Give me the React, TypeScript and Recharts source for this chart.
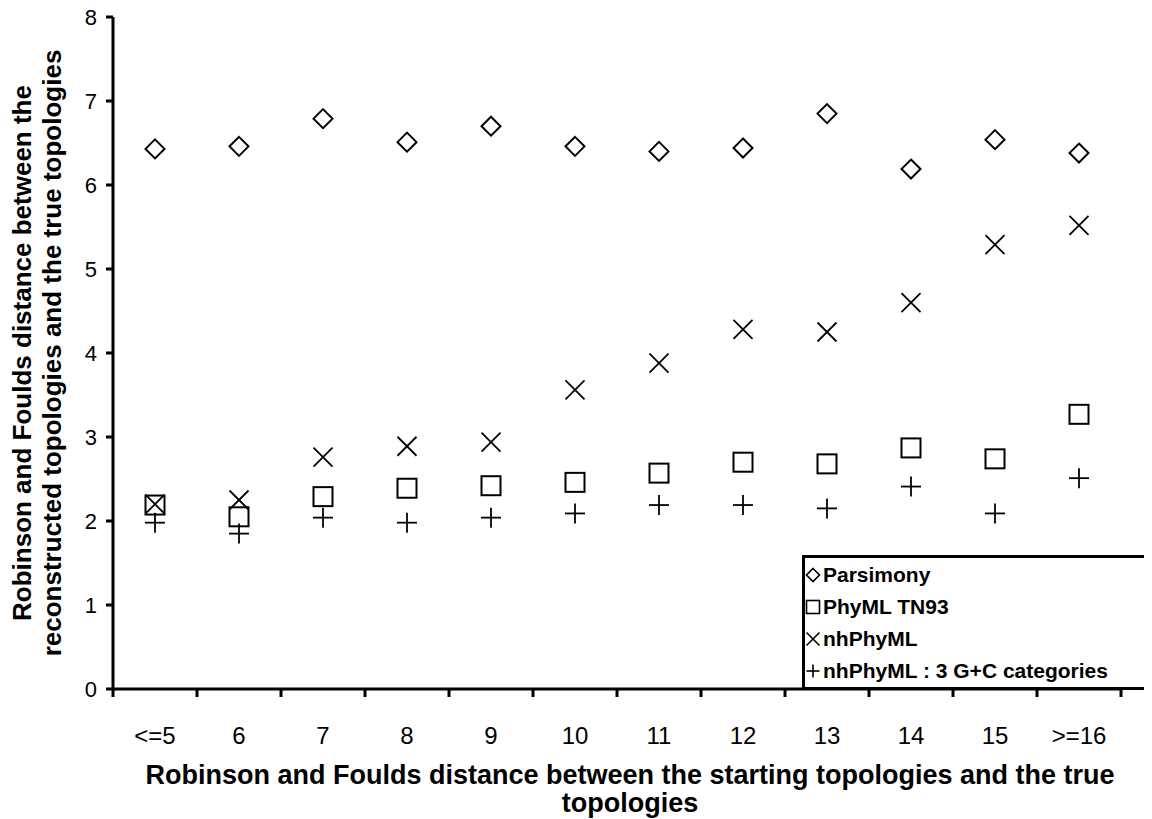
import React from "react";
import { ScatterChart, Scatter, XAxis, YAxis, Legend, Label } from "recharts";

const categories = ["<=5", "6", "7", "8", "9", "10", "11", "12", "13", "14", "15", ">=16"];
const parsimony = [6.43, 6.46, 6.79, 6.51, 6.7, 6.46, 6.4, 6.44, 6.85, 6.19, 6.54, 6.38];
const phymlTN93 = [2.19, 2.05, 2.29, 2.39, 2.42, 2.46, 2.57, 2.7, 2.68, 2.87, 2.74, 3.27];
const nhPhyml = [2.2, 2.25, 2.76, 2.89, 2.94, 3.56, 3.88, 4.28, 4.25, 4.6, 5.29, 5.52];
const nhPhymlGC = [1.98, 1.85, 2.04, 1.98, 2.04, 2.09, 2.19, 2.19, 2.15, 2.41, 2.09, 2.51];
const yTicks = [0, 1, 2, 3, 4, 5, 6, 7, 8];

const FONT = "'Liberation Sans', Arial, Helvetica, sans-serif";

// boundary ticks (0..12) carry the tick marks, half-way ticks carry the labels
const xTicks = [
  ...categories.map((_, i) => i),
  categories.length,
  ...categories.map((_, i) => i + 0.5),
].sort((a, b) => a - b);

const toPoints = (values: number[]) => values.map((v, i) => ({ x: i + 0.5, y: v }));

type Sym = "diamond" | "square" | "x" | "plus";

function symbolPath(kind: Sym, cx: number, cy: number, r: number, sw: number) {
  if (kind === "diamond") {
    return (
      <polygon
        points={`${cx},${cy - r} ${cx + r},${cy} ${cx},${cy + r} ${cx - r},${cy}`}
        fill="#fff"
        stroke="#000"
        strokeWidth={sw}
      />
    );
  }
  if (kind === "square") {
    return <rect x={cx - r} y={cy - r} width={r * 2} height={r * 2} fill="none" stroke="#000" strokeWidth={sw} />;
  }
  if (kind === "x") {
    return (
      <g stroke="#000" strokeWidth={sw}>
        <line x1={cx - r} y1={cy - r} x2={cx + r} y2={cy + r} />
        <line x1={cx - r} y1={cy + r} x2={cx + r} y2={cy - r} />
      </g>
    );
  }
  return (
    <g stroke="#000" strokeWidth={sw}>
      <line x1={cx - r} y1={cy} x2={cx + r} y2={cy} />
      <line x1={cx} y1={cy - r} x2={cx} y2={cy + r} />
    </g>
  );
}

const makeShape = (kind: Sym, r: number, sw: number) => (props: any) =>
  <g>{symbolPath(kind, props.cx, props.cy, r, sw)}</g>;

const symbolByName: Record<string, Sym> = {
  Parsimony: "diamond",
  "PhyML TN93": "square",
  nhPhyML: "x",
  "nhPhyML : 3 G+C categories": "plus",
};

function XTick(props: any) {
  const { x, y, payload } = props;
  const v = payload.value as number;
  if (Number.isInteger(v)) {
    return <line x1={x} x2={x} y1={y} y2={y + 8} stroke="#000" strokeWidth={3} />;
  }
  return (
    <text x={x} y={y + 55} textAnchor="middle" fontSize={24} fontFamily={FONT} fill="#000">
      {categories[Math.floor(v)]}
    </text>
  );
}

function YTick(props: any) {
  const { x, y, payload } = props;
  return (
    <text x={x} y={y + 8} textAnchor="end" fontSize={22} fontFamily={FONT} fill="#000">
      {payload.value}
    </text>
  );
}

function LegendBox(props: any) {
  const items = props.payload || [];
  return (
    <div
      style={{
        boxSizing: "border-box",
        width: 360,
        height: 135,
        borderLeft: "3px solid #000",
        borderTop: "3px solid #000",
        borderBottom: "3px solid #000",
        background: "#fff",
        paddingTop: 1,
        fontFamily: FONT,
        fontWeight: "bold",
        fontSize: 21,
        color: "#000",
      }}
    >
      {items.map((it: any) => (
        <div key={it.value} style={{ height: 32, display: "flex", alignItems: "center" }}>
          <svg width={16} height={16} style={{ marginLeft: 0, marginRight: 2 }}>
            {symbolPath(symbolByName[it.value], 8, 8, 6.5, 1.6)}
          </svg>
          <span>{it.value}</span>
        </div>
      ))}
    </div>
  );
}

export default function App() {
  return (
    <div style={{ width: 1144, height: 819, marginTop: -8, overflow: "hidden", position: "relative" }}>
      <ScatterChart width={1144} height={819} margin={{ top: 17, right: 31, bottom: 0, left: 0 }}>
        <XAxis
          type="number"
          dataKey="x"
          domain={[0, categories.length]}
          ticks={xTicks}
          interval={0}
          tickLine={false}
          tickSize={0}
          tickMargin={0}
          tick={(p: any) => <XTick {...p} />}
          axisLine={{ stroke: "#000", strokeWidth: 3 }}
          height={130}
        >
          <Label
            content={(p: any) => {
              const vb = p.viewBox;
              const cx = vb.x + vb.width / 2 + 13;
              return (
                <text textAnchor="middle" fontSize={27} fontWeight="bold" fontFamily={FONT} fill="#000">
                  <tspan x={cx} y={vb.y + 95}>
                    Robinson and Foulds distance between the starting topologies and the true
                  </tspan>
                  <tspan x={cx} dy={28}>
                    topologies
                  </tspan>
                </text>
              );
            }}
          />
        </XAxis>
        <YAxis
          type="number"
          dataKey="y"
          domain={[0, 8]}
          ticks={yTicks}
          interval={0}
          width={105}
          tickSize={7}
          tickMargin={9}
          tick={(p: any) => <YTick {...p} />}
          tickLine={{ stroke: "#000", strokeWidth: 3 }}
          axisLine={{ stroke: "#000", strokeWidth: 3 }}
        >
          <Label
            content={(p: any) => {
              const vb = p.viewBox;
              const cx = vb.x + 23;
              const cy = vb.y + vb.height / 2;
              return (
                <text
                  transform={`rotate(-90, ${cx}, ${cy})`}
                  textAnchor="middle"
                  fontSize={26}
                  fontWeight="bold"
                  fontFamily={FONT}
                  fill="#000"
                >
                  <tspan x={cx} y={cy}>
                    Robinson and Foulds distance between the
                  </tspan>
                  <tspan x={cx} dy={30}>
                    reconstructed topologies and the true topologies
                  </tspan>
                </text>
              );
            }}
          />
        </YAxis>
        <Legend
          layout="vertical"
          align="center"
          verticalAlign="middle"
          content={(p: any) => <LegendBox {...p} />}
          wrapperStyle={{ left: 794, top: 555, width: 360, height: 135 }}
        />
        <Scatter
          name="Parsimony"
          data={toPoints(parsimony)}
          shape={makeShape("diamond", 9.5, 2)}
          isAnimationActive={false}
          legendType="diamond"
        />
        <Scatter
          name="PhyML TN93"
          data={toPoints(phymlTN93)}
          shape={makeShape("square", 9.5, 2)}
          isAnimationActive={false}
          legendType="square"
        />
        <Scatter
          name="nhPhyML"
          data={toPoints(nhPhyml)}
          shape={makeShape("x", 9.5, 1.8)}
          isAnimationActive={false}
          legendType="cross"
        />
        <Scatter
          name="nhPhyML : 3 G+C categories"
          data={toPoints(nhPhymlGC)}
          shape={makeShape("plus", 10, 1.8)}
          isAnimationActive={false}
          legendType="cross"
        />
      </ScatterChart>
    </div>
  );
}
